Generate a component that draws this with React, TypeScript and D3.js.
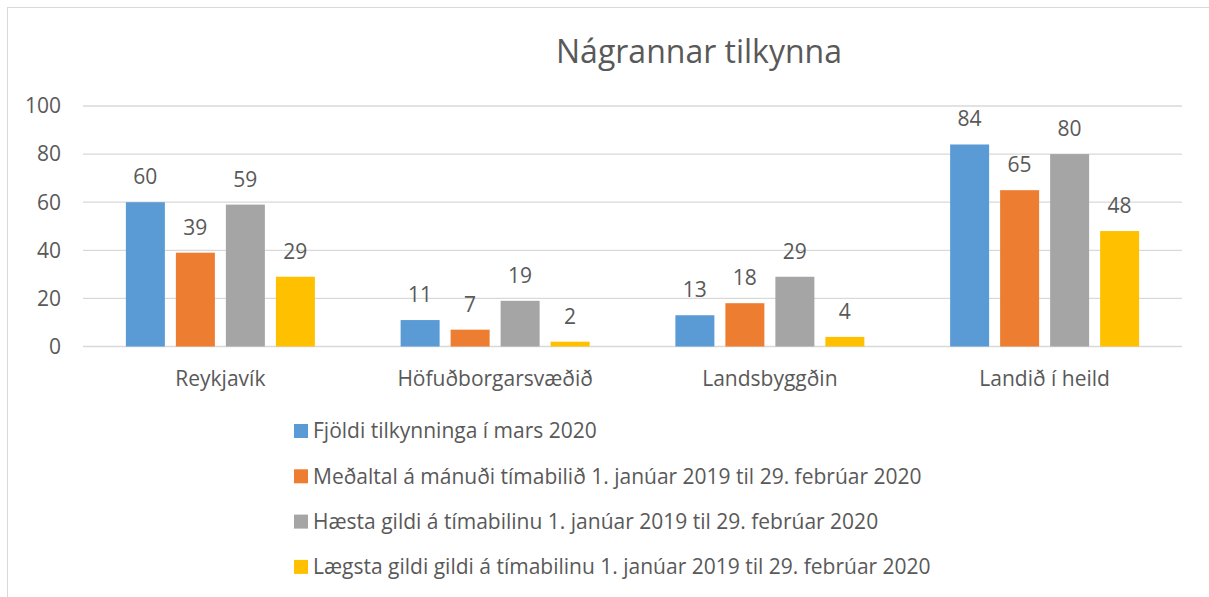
import React from "react";
import * as d3 from "d3";

const categories = ["Reykjavík", "Höfuðborgarsvæðið", "Landsbyggðin", "Landið í heild"];
const seriesNames = [
  "Fjöldi tilkynninga í mars 2020",
  "Meðaltal á mánuði tímabilið 1. janúar 2019 til 29. febrúar 2020",
  "Hæsta gildi á tímabilinu 1. janúar 2019 til 29. febrúar 2020",
  "Lægsta gildi gildi á tímabilinu 1. janúar 2019 til 29. febrúar 2020",
];
const fjoldi = [60, 11, 13, 84];
const medaltal = [39, 7, 18, 65];
const haesta = [59, 19, 29, 80];
const laegsta = [29, 2, 4, 48];
const seriesValues = [fjoldi, medaltal, haesta, laegsta];
const colors = ["#5B9BD5", "#ED7D31", "#A5A5A5", "#FFC000"];
const yTicks = [0, 20, 40, 60, 80, 100];
const title = "Nágrannar tilkynna";

const W = 1209;
const H = 597;
const FONT = "'Open Sans', sans-serif";
const TEXT = "#595959";

export default function App() {
  const x0 = d3.scaleBand<string>().domain(categories).range([83, 1182]).paddingInner(0).paddingOuter(0);
  const y = d3.scaleLinear().domain([0, 100]).range([346.5, 106]);
  const barW = 39;
  const step = 50;
  const x1 = d3.scaleBand<number>().domain([0, 1, 2, 3]).range([0, step * 4 - (step - barW)]).paddingInner((step - barW) / step).paddingOuter(0);

  return (
    <svg width={W} height={H} style={{ position: "absolute", left: 0, top: 0, background: "#fff" }} fontFamily={FONT}>
      <rect x={7.5} y={7.5} width={W + 10} height={H + 10} fill="#fff" stroke="#d9d9d9" strokeWidth={1} />
      <text x={699} y={63} textAnchor="middle" fontSize={32} fill={TEXT}>{title}</text>
      {yTicks.map((t) => (
        <g key={t}>
          <line x1={83} x2={1182} y1={y(t)} y2={y(t)} stroke="#d9d9d9" strokeWidth={1.3} />
          <text x={61} y={y(t)} dy="0.35em" textAnchor="end" fontSize={21} fill={TEXT}>{t}</text>
        </g>
      ))}
      {categories.map((c, ci) => {
        const groupW = step * 3 + barW;
        const gx = (x0(c) as number) + x0.bandwidth() / 2 - groupW / 2;
        return (
          <g key={c}>
            {seriesValues.map((vals, si) => {
              const bx = gx + (x1(si) as number);
              const v = vals[ci];
              return (
                <g key={si}>
                  <rect x={bx} y={y(v)} width={x1.bandwidth()} height={y(0) - y(v)} fill={colors[si]} />
                  <text x={bx + x1.bandwidth() / 2} y={y(v) - 18} textAnchor="middle" fontSize={21} fill={TEXT}>{v}</text>
                </g>
              );
            })}
            <text x={(x0(c) as number) + x0.bandwidth() / 2} y={386} textAnchor="middle" fontSize={21} fill={TEXT}>{c}</text>
          </g>
        );
      })}
      {seriesNames.map((n, i) => {
        const ly = 431 + i * 45.3;
        return (
          <g key={n}>
            <rect x={294} y={ly - 7} width={14} height={14} fill={colors[i]} />
            <text x={313} y={ly} dy="0.35em" fontSize={21} fill={TEXT}>{n}</text>
          </g>
        );
      })}
    </svg>
  );
}
